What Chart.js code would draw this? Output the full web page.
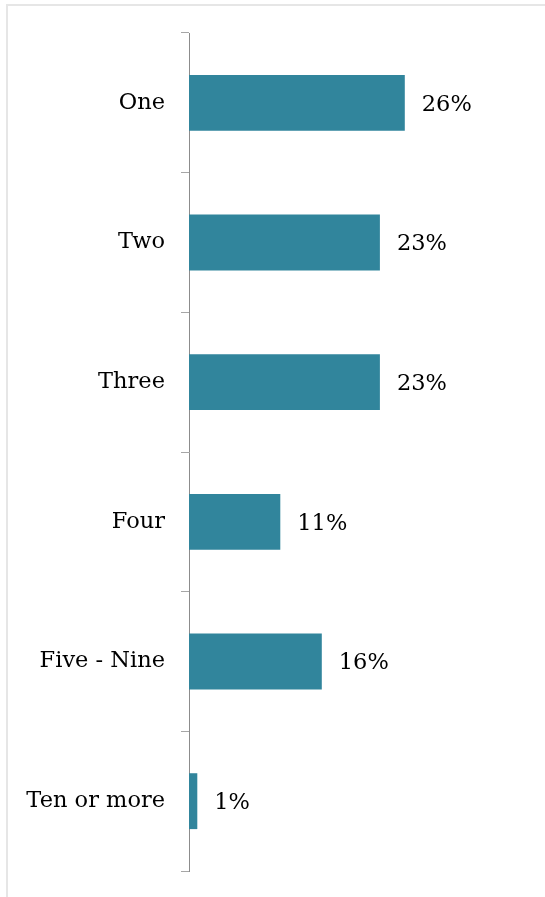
<!DOCTYPE html>
<html>
<head>
<meta charset="utf-8">
<script src="https://cdn.jsdelivr.net/npm/chart.js@4/dist/chart.umd.min.js"></script>
<style>
  html, body { margin: 0; padding: 0; background: #fff; }
  body { width: 545px; height: 897px; position: relative; overflow: hidden; }
  #frame { position: absolute; left: 6px; top: 4px; width: 600px; height: 950px; border: 2px solid #e6e6e6; box-sizing: border-box; }
  #wrap { position: absolute; left: 0; top: 0; width: 545px; height: 897px; }
</style>
</head>
<body>
<div id="frame"></div>
<div id="wrap"><canvas id="chart"></canvas></div>
<script>
// ===== Data =====
const categories = ['One', 'Two', 'Three', 'Four', 'Five - Nine', 'Ten or more'];
const shares = [26, 23, 23, 11, 16, 1];

const FONT = "'DejaVu Serif', serif";

// value labels at the bar ends
const barLabels = {
  id: 'barLabels',
  afterDatasetsDraw(chart) {
    const { ctx } = chart;
    const meta = chart.getDatasetMeta(0);
    ctx.save();
    ctx.font = `22.5px ${FONT}`;
    ctx.fillStyle = '#000';
    ctx.textAlign = 'left';
    ctx.textBaseline = 'middle';
    meta.data.forEach((bar, i) => {
      ctx.fillText(shares[i] + '%', bar.x + 17, bar.y + 2);
    });
    ctx.restore();
  }
};

new Chart(document.getElementById('chart'), {
  type: 'bar',
  data: {
    labels: categories,
    datasets: [{
      data: shares,
      backgroundColor: '#31859c',
      barPercentage: 0.4,
      categoryPercentage: 1
    }]
  },
  options: {
    indexAxis: 'y',
    responsive: true,
    maintainAspectRatio: false,
    animation: false,
    layout: { padding: { top: 33, bottom: 26, left: 0, right: 107 } },
    plugins: { legend: { display: false }, tooltip: { enabled: false } },
    scales: {
      x: { display: false, min: 0, max: 30 },
      y: {
        afterFit(scale) { scale.width = 189; scale.paddingTop = 0; scale.paddingBottom = 0; },
        border: { display: true, color: '#8c8c8c', width: 1 },
        grid: { drawOnChartArea: false, drawTicks: true, tickLength: 8, color: '#a6a6a6', offset: true },
        ticks: { padding: 16, color: '#000', font: { family: FONT, size: 22.5 } }
      }
    }
  },
  plugins: [barLabels]
});
</script>
</body>
</html>
